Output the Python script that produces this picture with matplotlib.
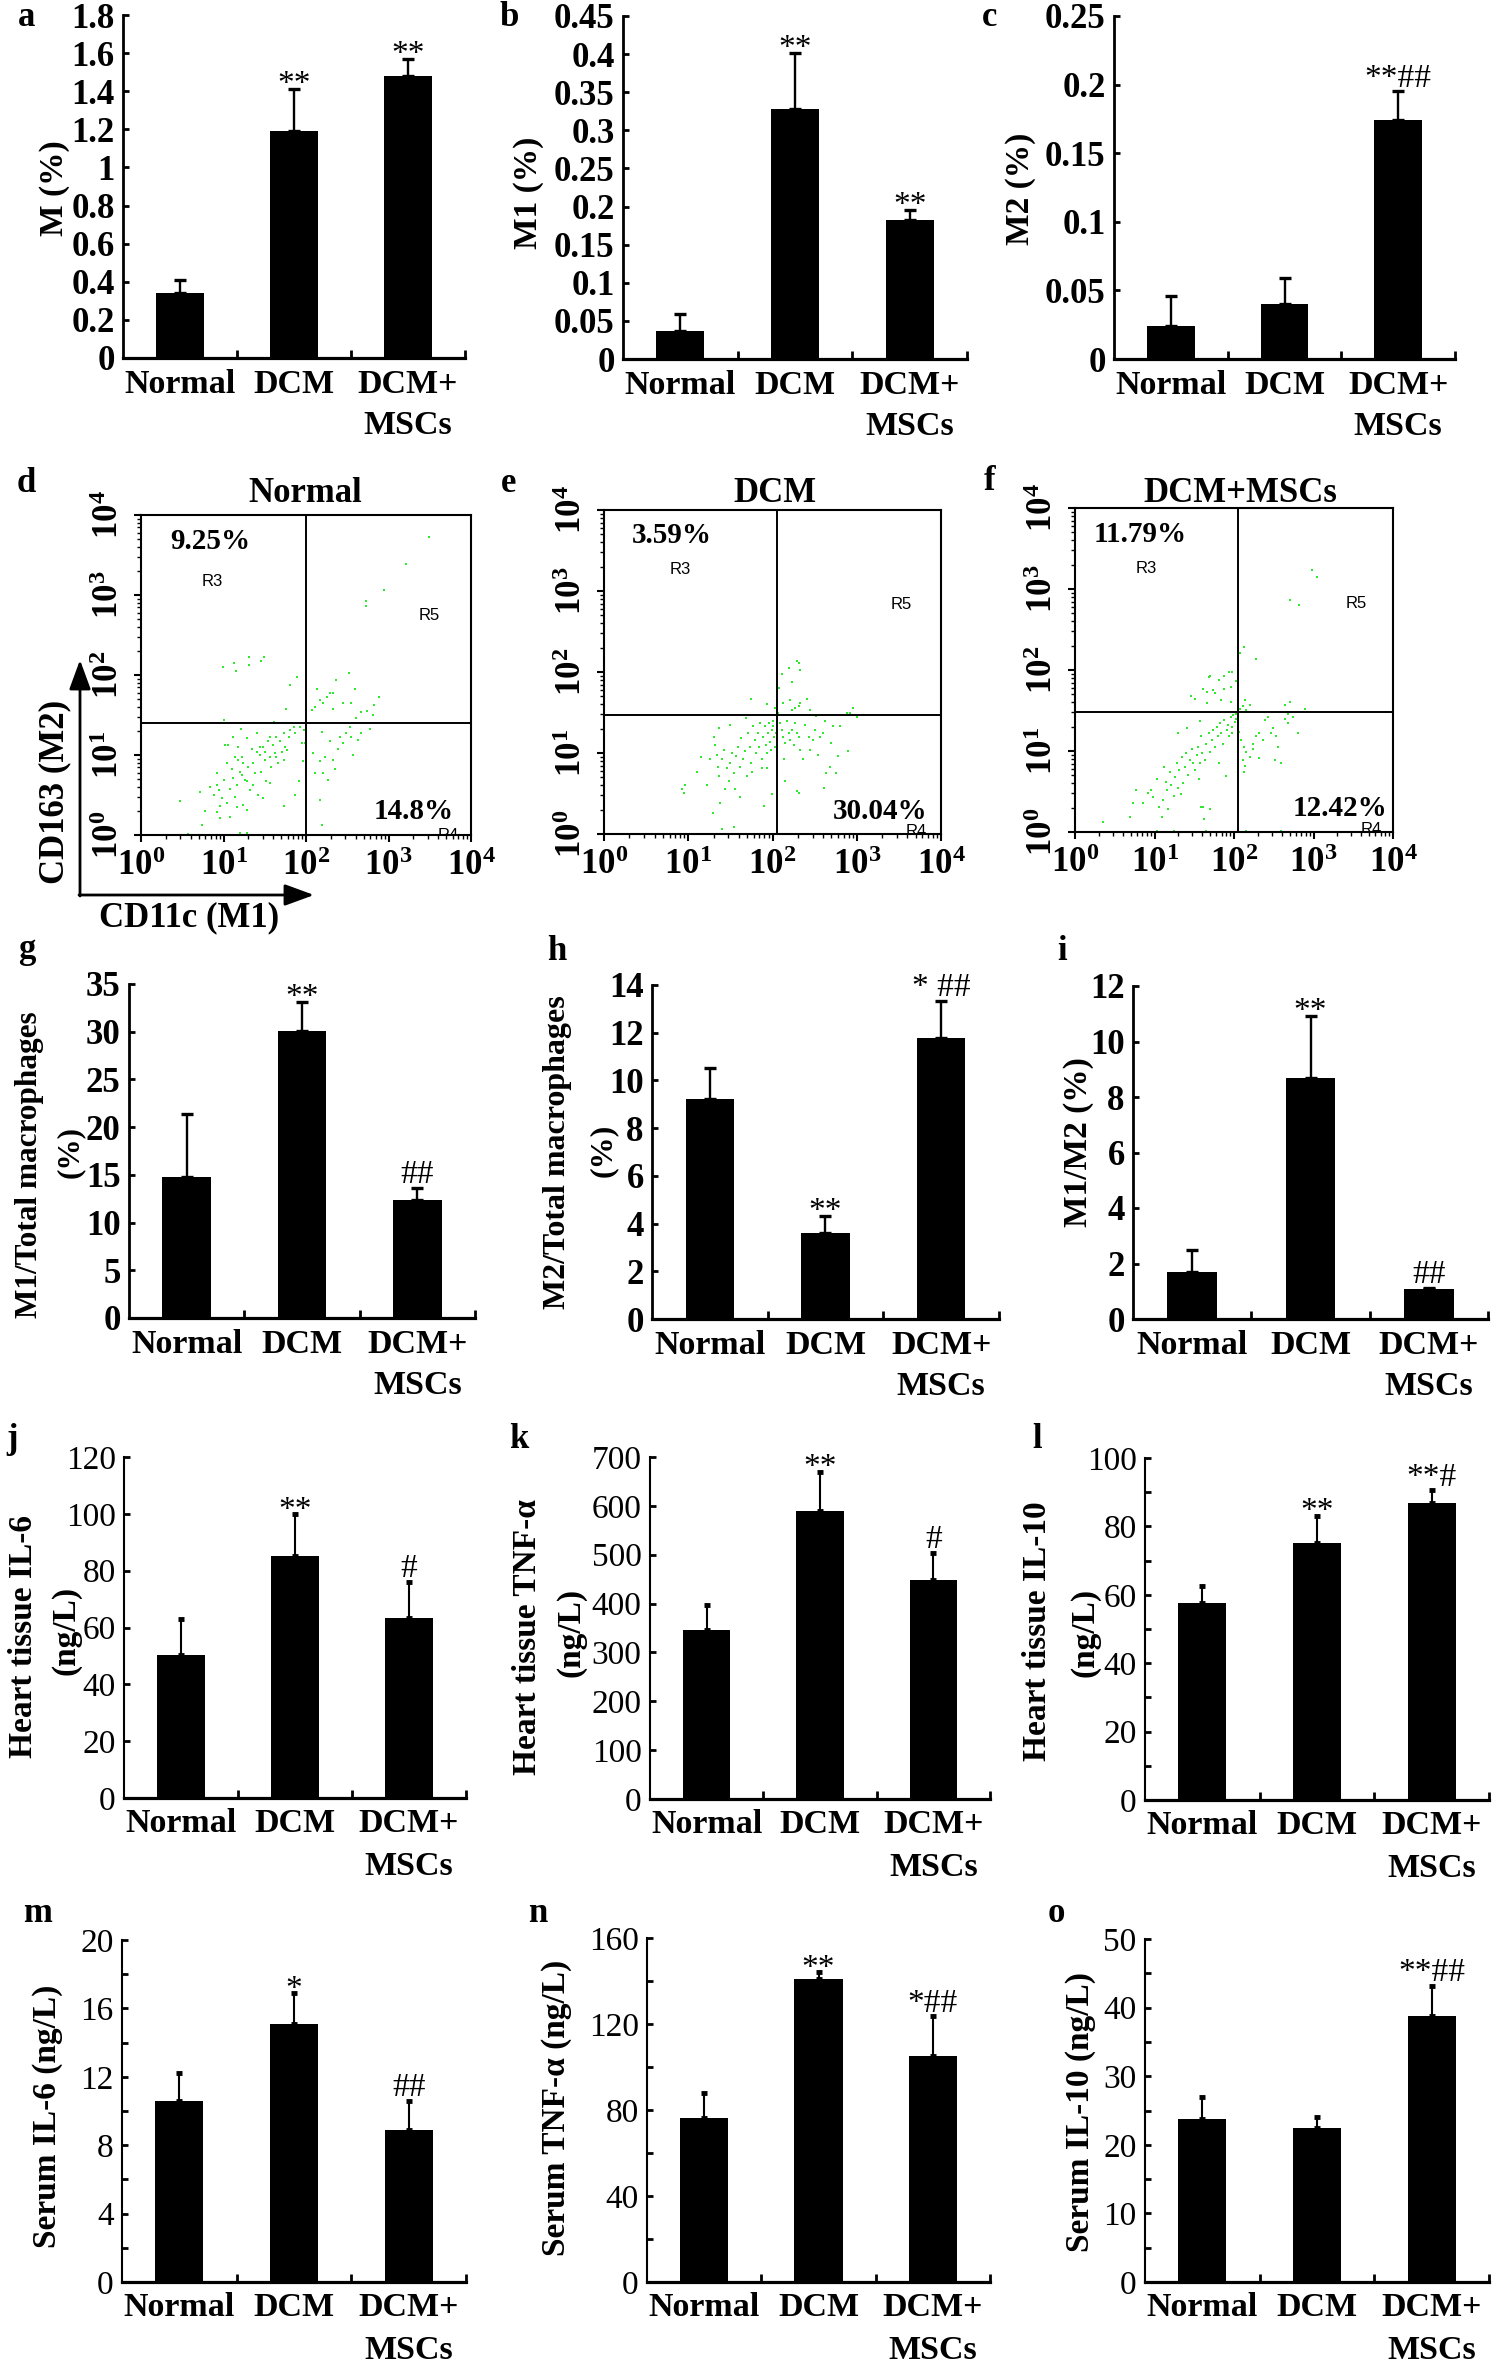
import numpy as np
import matplotlib
matplotlib.use('Agg')
import matplotlib.pyplot as plt
from matplotlib.transforms import Affine2D
from matplotlib.patches import FancyArrowPatch
from matplotlib.ticker import FixedLocator, LogLocator, NullFormatter

plt.rcParams['font.family'] = ['Liberation Serif', 'DejaVu Serif']
plt.rcParams['mathtext.fontset'] = 'custom'
plt.rcParams['mathtext.rm'] = 'Liberation Serif:bold'
plt.rcParams['mathtext.it'] = 'Liberation Serif:bold'
plt.rcParams['mathtext.bf'] = 'Liberation Serif:bold'

W, H = 1492, 2362

# ---------------- data ----------------
groups = ['Normal', 'DCM', 'DCM+\nMSCs']

a_mean = [0.34, 1.19, 1.48];   a_sd = [0.07, 0.22, 0.09];   a_sig = ['', '**', '**']
b_mean = [0.037, 0.328, 0.183]; b_sd = [0.022, 0.074, 0.013]; b_sig = ['', '**', '**']
c_mean = [0.024, 0.040, 0.174]; c_sd = [0.022, 0.019, 0.021]; c_sig = ['', '', '**##']
g_mean = [14.8, 30.1, 12.4];   g_sd = [6.6, 3.0, 1.2];      g_sig = ['', '**', '##']
h_mean = [9.24, 3.60, 11.79];  h_sd = [1.27, 0.72, 1.53];   h_sig = ['', '**', '* ##']
i_mean = [1.68, 8.69, 1.08];   i_sd = [0.80, 2.23, 0.05];   i_sig = ['', '**', '##']
j_mean = [50.3, 85.2, 63.5];   j_sd = [12.6, 14.6, 12.4];   j_sig = ['', '**', '#']
k_mean = [346, 590, 449];      k_sd = [52, 79, 54];         k_sig = ['', '**', '#']
l_mean = [57.6, 75.1, 86.8];   l_sd = [5.1, 8.0, 3.7];      l_sig = ['', '**', '**#']
m_mean = [10.58, 15.06, 8.88]; m_sd = [1.67, 1.82, 1.70];   m_sig = ['', '*', '##']
n_mean = [76.4, 140.9, 105.2]; n_sd = [11.4, 3.1, 18.3];    n_sig = ['', '**', '*##']
o_mean = [23.8, 22.4, 38.8];   o_sd = [3.1, 1.7, 4.3];      o_sig = ['', '', '**##']

a_ticks = [0, 0.2, 0.4, 0.6, 0.8, 1.0, 1.2, 1.4, 1.6, 1.8]
b_ticks = [0, 0.05, 0.1, 0.15, 0.2, 0.25, 0.3, 0.35, 0.4, 0.45]
c_ticks = [0, 0.05, 0.1, 0.15, 0.2, 0.25]
g_ticks = [0, 5, 10, 15, 20, 25, 30, 35]
h_ticks = [0, 2, 4, 6, 8, 10, 12, 14]
i_ticks = [0, 2, 4, 6, 8, 10, 12]
j_ticks = [0, 20, 40, 60, 80, 100, 120]
k_ticks = [0, 100, 200, 300, 400, 500, 600, 700]
l_ticks = [0, 20, 40, 60, 80, 100]
m_ticks = [0, 4, 8, 12, 16, 20]
n_ticks = [0, 40, 80, 120, 160]
o_ticks = [0, 10, 20, 30, 40, 50]
l_minor = [10, 30, 50, 70, 90]
m_minor = [2, 6, 10, 14, 18]
n_minor = [20, 60, 100, 140]
o_minor = [5, 15, 25, 35, 45]

# flow cytometry events (log10 CD11c, log10 CD163)
d_pts = [(3.49,3.72),(3.21,3.39),(2.94,3.06),(2.73,2.93),(2.73,2.86),
 (0.99,2.10),(1.13,2.15),(1.15,2.05),(1.31,2.23),(1.31,2.12),(1.49,2.23),(1.45,2.18),
 (1.89,1.98),(1.80,1.88),(2.52,2.03),(2.36,1.94),(2.59,1.83),(2.89,1.72),(2.82,1.63),(2.74,1.55),(2.81,1.50),(1.76,1.57),(1.01,1.44),(1.61,1.41),
 (2.13,1.83),(2.17,1.69),(2.25,1.73),(2.29,1.77),(2.33,1.78),(2.21,1.65),(2.11,1.60),(2.07,1.56),(2.33,1.58),(2.45,1.65),(2.55,1.65),(2.61,1.46),(2.67,1.54),
 (2.53,1.35),(2.49,1.27),(2.41,1.23),(2.55,1.23),(2.67,1.27),(2.78,1.33),(2.63,1.19),(2.45,1.15),(2.39,1.08),(2.57,1.00),(2.29,1.17),(2.19,1.29),(2.09,1.02),(2.17,0.92),(2.23,0.98),(2.33,0.94),(2.11,0.77),(2.21,0.77),(2.27,0.69),(2.35,0.83),(2.17,0.44),(2.19,0.13),(1.99,1.15),(1.96,0.92),(1.91,0.67),(1.87,0.50),
 (0.47,0.43),(0.72,0.54),(0.78,0.30),(0.74,0.13),(0.57,0.01),(0.84,0.60),(0.92,0.77),(0.94,0.56),(0.96,0.21),(0.92,0.29),(0.98,0.46),(1.04,0.40),(1.08,0.58),(1.12,0.71),(1.14,0.48),(1.16,0.63),(1.17,0.94),(1.20,0.79),(1.22,0.98),(1.24,0.90),(1.26,0.69),(1.28,0.31),(1.30,0.85),(1.32,0.56),(1.34,1.08),(1.36,0.90),(1.38,0.77),(1.40,1.04),(1.42,0.50),(1.44,1.00),(1.46,0.79),(1.48,1.10),(1.50,0.94),(1.52,0.67),(1.54,1.17),(1.56,0.98),(1.58,0.85),(1.60,1.13),(1.62,1.02),(1.64,1.23),(1.66,0.90),(1.68,1.17),(1.71,1.04),(1.73,1.27),(1.75,1.10),(1.77,1.06),(1.79,1.23),(1.81,1.31),(1.85,1.35),(1.87,1.27),(1.91,1.40),(1.93,1.35),(1.97,1.31),(1.95,1.15),(1.08,0.23),(1.20,0.02),(1.28,0.02),(1.73,0.36),(1.87,0.0),(1.02,1.13),(1.06,1.13),(1.12,1.23),(1.21,1.33),(1.28,1.21),(1.40,1.27),(1.56,1.23),(1.04,0.90),(1.10,0.83),(1.14,0.98),(1.18,1.10),(1.22,0.75),(1.28,0.67),(1.36,0.63),(0.92,0.63),(0.88,0.50),(0.96,0.36),(1.00,0.69),(1.16,0.35),(1.24,0.38),(1.48,0.46),(1.56,0.65),(1.64,0.98),(1.73,0.94),(1.44,1.10),(1.50,1.04)]

e_pts = [(2.29,2.14),(2.32,2.11),(2.33,2.03),(2.20,2.05),(2.23,1.88),(2.11,1.97),(2.08,1.80),(2.21,1.66),(2.13,1.62),(2.33,1.62),(2.41,1.67),(2.23,1.53),(2.27,1.55),(2.31,1.58),(2.45,1.53),(2.52,1.46),(1.94,1.60),(1.74,1.67),(2.03,1.56),(2.88,1.49),(2.96,1.56),(3.00,1.44),(2.07,1.49),
 (0.92,0.55),(0.95,0.51),(0.96,0.60),(1.10,0.77),(1.15,0.95),(1.22,0.60),(1.26,0.92),(1.29,0.26),(1.30,1.20),(1.32,1.10),(1.34,0.98),(1.35,0.83),(1.36,1.31),(1.37,0.71),(1.38,0.38),(1.40,0.92),(1.42,1.04),(1.44,0.55),(1.46,0.81),(1.48,0.65),(1.49,1.35),(1.50,0.88),(1.52,1.00),(1.54,0.75),(1.55,0.55),(1.57,0.96),(1.59,1.08),(1.61,0.83),(1.61,0.46),(1.63,1.18),(1.65,0.92),(1.67,1.02),(1.69,1.43),(1.70,0.71),(1.71,1.25),(1.73,1.08),(1.75,0.88),(1.76,0.77),(1.77,1.33),(1.79,1.16),(1.81,1.00),(1.83,1.25),(1.84,1.08),(1.85,1.37),(1.87,0.92),(1.88,0.81),(1.89,1.20),(1.90,0.34),(1.91,1.33),(1.92,1.10),(1.93,1.00),(1.94,0.81),(1.95,1.25),(1.96,1.37),(1.97,1.14),(1.98,1.04),(1.99,1.29),(2.00,1.40),(2.01,1.33),(2.02,1.20),(2.03,1.08),(2.04,1.25),(2.05,0.81),(1.99,0.49),(2.09,1.37),(2.11,1.29),(2.13,1.20),(2.15,1.12),(2.14,0.92),(2.15,0.65),(2.17,1.39),(2.19,1.25),(2.21,1.16),(2.23,1.29),(2.25,1.10),(2.27,1.37),(2.29,1.25),(2.31,1.20),(2.33,1.04),(2.36,0.92),(2.29,0.53),(2.31,0.51),(2.39,1.35),(2.43,1.20),(2.45,1.04),(2.48,1.16),(2.50,1.29),(2.54,0.98),(2.56,1.20),(2.60,1.25),(2.62,1.39),(2.64,0.75),(2.68,0.83),(2.61,0.57),(2.70,1.12),(2.72,1.33),(2.75,0.75),(2.78,0.96),(2.80,1.33),(2.90,1.02),(2.92,1.49),(1.15,0.0),(1.40,0.06),(1.54,0.09),(1.57,0.0)]

f_pts = [(2.98,3.24),(3.05,3.15),(2.70,2.87),(2.82,2.80),(2.12,2.29),(2.07,2.21),(2.28,2.14),
 (1.70,1.93),(1.68,1.91),(1.94,1.98),(1.98,1.98),(1.88,1.93),(1.81,1.88),(2.03,1.87),(1.96,1.79),(1.61,1.77),(1.74,1.75),(1.66,1.73),(1.76,1.72),(1.88,1.76),(1.46,1.68),(1.51,1.64),(1.66,1.59),(1.84,1.63),(1.96,1.61),(2.14,1.63),(2.20,1.57),(2.07,1.52),(2.11,1.55),(2.15,1.51),(2.64,1.57),(2.70,1.61),(2.68,1.46),(2.74,1.42),(2.64,1.40),(2.68,1.35),(2.89,1.52),
 (0.35,0.12),(0.69,0.19),(0.73,0.36),(0.77,0.52),(0.85,0.36),(0.92,0.48),(0.96,0.52),(0.98,0.43),(1.03,0.65),(1.06,0.31),(1.09,0.19),(1.11,0.39),(1.12,0.80),(1.14,0.62),(1.16,0.52),(1.17,0.28),(1.19,0.74),(1.21,0.58),(1.24,0.45),(1.26,0.68),(1.28,0.85),(1.30,0.54),(1.31,0.76),(1.33,0.47),(1.34,0.93),(1.36,0.60),(1.38,0.80),(1.40,0.97),(1.42,0.70),(1.45,0.89),(1.47,1.03),(1.49,0.85),(1.51,0.76),(1.53,0.95),(1.55,1.05),(1.56,0.66),(1.57,0.85),(1.59,1.18),(1.60,0.97),(1.61,0.31),(1.63,0.89),(1.65,1.09),(1.68,1.22),(1.70,0.99),(1.70,0.29),(1.72,1.13),(1.74,1.26),(1.76,1.05),(1.78,1.30),(1.80,1.18),(1.81,0.85),(1.82,1.34),(1.84,1.22),(1.86,1.09),(1.88,1.38),(1.90,0.69),(1.91,1.26),(1.93,1.32),(1.94,1.18),(1.96,1.42),(1.97,1.30),(1.98,1.22),(1.99,1.44),(2.01,1.36),(2.02,1.40),(2.03,1.46),(2.05,1.42),(2.06,1.24),(2.09,1.13),(2.12,1.05),(2.11,0.89),(2.14,0.81),(2.15,0.99),(2.20,0.93),(2.24,1.09),(2.28,1.18),(2.32,1.22),(2.37,1.13),(2.39,1.38),(2.43,1.42),(2.47,1.22),(2.49,1.28),(2.53,1.18),(2.55,1.05),(2.51,0.89),(2.59,0.85),(2.32,0.91),(2.12,0.74),(2.24,1.03),(2.81,1.22),(1.59,0.31),(1.62,0.16),(1.65,0.01),(1.24,0.01),(2.15,0.01),(2.59,0.01),(1.03,0.01),(1.41,1.28),(1.29,1.22),(1.57,1.37)]

flow_ticks = [1, 10, 100, 1000, 10000]
flow_ticklabels = [r'$10^{0}$', r'$10^{1}$', r'$10^{2}$', r'$10^{3}$', r'$10^{4}$']

# ---------------- figure ----------------
fig = plt.figure(figsize=(W / 100, H / 100), dpi=100)
PX = Affine2D().scale(1.0 / W, -1.0 / H).translate(0, 1) + fig.transFigure

FS_TICK = 25
FS_XLAB = 24.5
FS_LAB = 24


def add_ax(x0, y0, x1, y1):
    return fig.add_axes([x0 / W, 1 - y1 / H, (x1 - x0) / W, (y1 - y0) / H])


def ftext(x, y, s, **kw):
    kw.setdefault('ha', 'center')
    kw.setdefault('va', 'center')
    return fig.text(x, y, s, transform=PX, **kw)


def fmt(v):
    return ('%g' % v)


def bar_panel(box, means, sds, sig, yticks, minor=None, lower=False):
    ax = add_ax(*box)
    x = np.arange(3)
    ax.bar(x, means, width=0.42, color='black', zorder=2)
    if lower:
        ax.errorbar(x, means, yerr=[np.zeros(3), sds], fmt='none', ecolor='black',
                    elinewidth=1.5, capsize=2.0, capthick=3.5, zorder=1)
    else:
        ax.errorbar(x, means, yerr=[np.zeros(3), sds], fmt='none', ecolor='black',
                    elinewidth=1.7, capsize=4.2, capthick=2.4, zorder=1)
    ax.set_xlim(-0.5, 2.5)
    ax.set_ylim(0, yticks[-1])
    for s in ['top', 'right']:
        ax.spines[s].set_visible(False)
    ax.spines['bottom'].set_linewidth(2.3)
    ax.spines['left'].set_linewidth(2.0 if not lower else 1.5)
    ax.set_xticks(x)
    ax.set_xticklabels(groups, fontsize=FS_XLAB, fontweight='bold',
                       linespacing=1.4 if not lower else 1.5)
    ax.tick_params(axis='x', which='major', length=0, pad=8 if not lower else 7)
    ax.xaxis.set_minor_locator(FixedLocator([0.5, 1.5, 2.5]))
    ax.tick_params(axis='x', which='minor', direction='in', length=6, width=2)
    ax.set_yticks(yticks)
    ax.set_yticklabels([fmt(v) for v in yticks], fontsize=FS_TICK if not lower else 24,
                       fontweight='normal' if lower else 'bold')
    ax.tick_params(axis='y', which='major', direction='in', length=4, width=2, pad=6)
    if minor is not None:
        ax.yaxis.set_minor_locator(FixedLocator(minor))
        ax.tick_params(axis='y', which='minor', direction='in', length=4, width=2)
    for i, s in enumerate(sig):
        if s:
            off = 3.5 if '#' in s else -3.0
            ax.annotate(s, (x[i], means[i] + sds[i]), xytext=(0, off),
                        textcoords='offset points', ha='center', va='baseline',
                        fontsize=24, annotation_clip=False)
    return ax


def flow_panel(box, pts, vq, hq, ul, ul_xy, lr, lr_xy, r3_xy, r5_xy, r4_xy):
    ax = add_ax(*box)
    ax.set_xscale('log')
    ax.set_yscale('log')
    p = np.array(pts)
    ax.scatter(10 ** p[:, 0], 10 ** p[:, 1], s=3.2, marker='s', color='#30e830',
               linewidths=0, zorder=2)
    ax.set_xlim(1, 1e4)
    ax.set_ylim(1, 1e4)
    ax.axvline(10 ** vq, color='black', lw=1.4, zorder=3)
    ax.axhline(10 ** hq, color='black', lw=1.4, zorder=3)
    for s in ax.spines.values():
        s.set_linewidth(1.5)
    ax.set_xticks(flow_ticks)
    ax.set_xticklabels(flow_ticklabels, fontsize=25)
    ax.set_yticks(flow_ticks)
    ax.set_yticklabels(flow_ticklabels, fontsize=25, rotation=90, va='center')
    ax.xaxis.set_minor_locator(LogLocator(base=10, subs=range(2, 10)))
    ax.yaxis.set_minor_locator(LogLocator(base=10, subs=range(2, 10)))
    ax.xaxis.set_minor_formatter(NullFormatter())
    ax.yaxis.set_minor_formatter(NullFormatter())
    ax.tick_params(which='major', direction='out', length=5, width=1.5)
    ax.tick_params(axis='x', which='major', pad=6)
    ax.tick_params(axis='y', which='major', pad=6)
    ax.tick_params(which='minor', direction='out', length=3, width=1.0)
    ax.text(10 ** ul_xy[0], 10 ** ul_xy[1], ul, ha='center', va='center',
            fontsize=21, fontweight='bold', zorder=4)
    ax.text(10 ** lr_xy[0], 10 ** lr_xy[1], lr, ha='center', va='center',
            fontsize=21, fontweight='bold', zorder=4)
    ax.text(10 ** r3_xy[0], 10 ** r3_xy[1], 'R3', ha='center', va='center',
            fontsize=12, family='Liberation Sans')
    ax.text(10 ** r5_xy[0], 10 ** r5_xy[1], 'R5', ha='center', va='center',
            fontsize=12, family='Liberation Sans')
    ax.text(10 ** r4_xy[0], 10 ** r4_xy[1], 'R4', ha='center', va='center',
            fontsize=12, family='Liberation Sans', clip_on=True)
    return ax


def vlabel(x, y, s, size=FS_LAB):
    ftext(x, y, s, rotation=90, fontsize=size, fontweight='bold')


# ---- row 1 ----
bar_panel((123, 15, 465, 358), a_mean, a_sd, a_sig, a_ticks)
bar_panel((623, 16, 967, 359), b_mean, b_sd, b_sig, b_ticks)
bar_panel((1114, 16, 1455, 359), c_mean, c_sd, c_sig, c_ticks)
vlabel(55, 188, 'M (%)')
vlabel(528, 193, 'M1 (%)')
vlabel(1020, 189, 'M2 (%)')

# ---- row 2 (flow cytometry) ----
flow_panel((141, 515, 471, 835), d_pts, 2.00, 1.40, '9.25%', (0.84, 3.67), '14.8%', (3.30, 0.29),
           (0.86, 3.17), (3.49, 2.75), (3.72, 0.0))
flow_panel((604, 510, 941, 834), e_pts, 2.05, 1.47, '3.59%', (0.80, 3.69), '30.04%', (3.28, 0.28),
           (0.90, 3.26), (3.53, 2.83), (3.71, 0.03))
flow_panel((1075, 508, 1393, 832), f_pts, 2.05, 1.48, '11.79%', (0.82, 3.67), '12.42%', (3.33, 0.29),
           (0.90, 3.25), (3.54, 2.82), (3.73, 0.03))
ftext(305, 493, 'Normal', fontsize=25, fontweight='bold')
ftext(775, 493, 'DCM', fontsize=25, fontweight='bold')
ftext(1240, 493, 'DCM+MSCs', fontsize=25, fontweight='bold')
fig.add_artist(FancyArrowPatch((80, 896), (80, 660), transform=PX,
                               arrowstyle='-|>,head_length=0.6,head_width=0.22',
                               mutation_scale=30, lw=2.0, color='black',
                               shrinkA=0, shrinkB=0))
fig.add_artist(FancyArrowPatch((79, 895), (314, 895), transform=PX,
                               arrowstyle='-|>,head_length=0.6,head_width=0.22',
                               mutation_scale=30, lw=2.0, color='black',
                               shrinkA=0, shrinkB=0))
vlabel(55, 792, 'CD163 (M2)', 25)
ftext(189, 918, 'CD11c (M1)', fontsize=25, fontweight='bold')

# ---- row 3 ----
bar_panel((129, 984, 475, 1318), g_mean, g_sd, g_sig, g_ticks)
bar_panel((652, 985, 999, 1319), h_mean, h_sd, h_sig, h_ticks)
bar_panel((1133, 986, 1488, 1319), i_mean, i_sd, i_sig, i_ticks)
vlabel(30, 1165, 'M1/Total macrophages', 22.5)
vlabel(70, 1152, '(%)', 22.5)
vlabel(558, 1152, 'M2/Total macrophages', 23)
vlabel(603, 1150, '(%)', 23)
vlabel(1078, 1142, 'M1/M2 (%)')

# ---- row 4 ----
bar_panel((124, 1457, 466, 1798), j_mean, j_sd, j_sig, j_ticks, lower=True)
bar_panel((650, 1457, 990, 1799), k_mean, k_sd, k_sig, k_ticks, lower=True)
bar_panel((1145, 1458, 1489, 1800), l_mean, l_sd, l_sig, l_ticks, minor=l_minor, lower=True)
vlabel(24, 1637, 'Heart tissue IL-6')
vlabel(66, 1630, '(ng/L)')
vlabel(528, 1637, 'Heart tissue TNF-α')
vlabel(571, 1632, '(ng/L)')
vlabel(1037, 1631, 'Heart tissue IL-10')
vlabel(1085, 1632, '(ng/L)')

# ---- row 5 ----
bar_panel((122, 1940, 466, 2282), m_mean, m_sd, m_sig, m_ticks, minor=m_minor, lower=True)
bar_panel((647, 1938, 990, 2282), n_mean, n_sd, n_sig, n_ticks, minor=n_minor, lower=True)
bar_panel((1145, 1939, 1489, 2282), o_mean, o_sd, o_sig, o_ticks, minor=o_minor, lower=True)
vlabel(48, 2116, 'Serum IL-6 (ng/L)')
vlabel(557, 2108, 'Serum TNF-α (ng/L)')
vlabel(1080, 2112, 'Serum IL-10 (ng/L)')

# ---- panel letters ----
letters = [('a', 27, 18), ('b', 509, 18), ('c', 990, 18),
           ('d', 26, 484), ('e', 509, 484), ('f', 990, 482),
           ('g', 27, 950), ('h', 557, 952), ('i', 1062, 952),
           ('j', 12, 1440), ('k', 519, 1440), ('l', 1037, 1440),
           ('m', 38, 1913), ('n', 538, 1913), ('o', 1056, 1913)]
for s, x, y in letters:
    ftext(x, y, s, fontsize=25, fontweight='bold')

fig.savefig('out.png', dpi=100, facecolor='white')
